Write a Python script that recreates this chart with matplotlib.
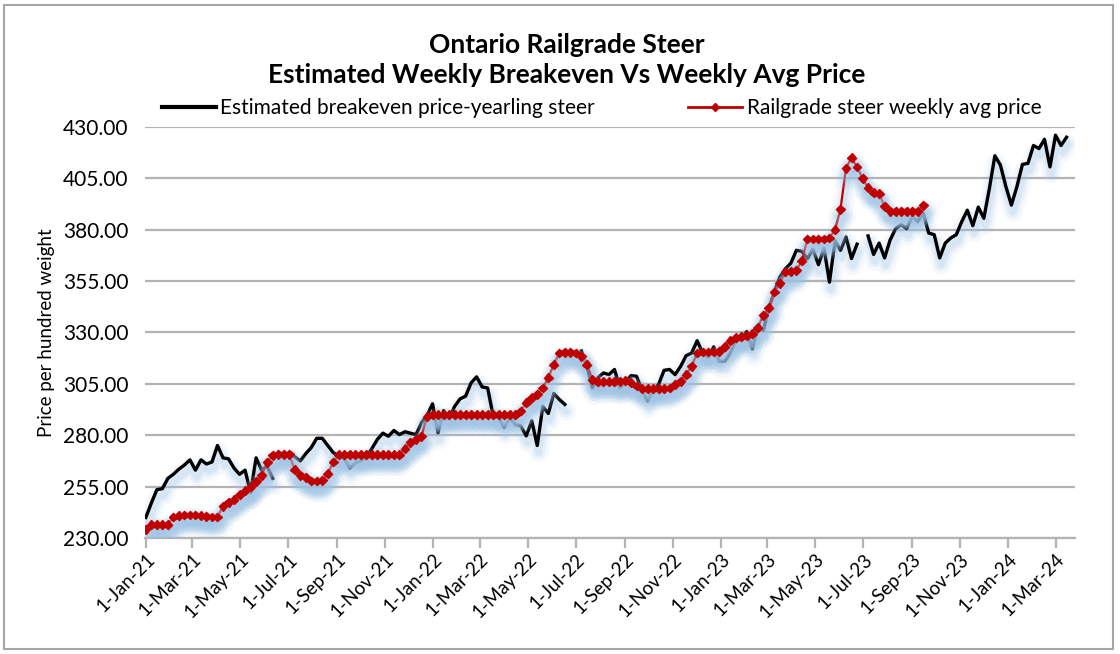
import numpy as np
import pandas as pd
import matplotlib
matplotlib.use("Agg")
import matplotlib.pyplot as plt
import matplotlib.dates as mdates
import matplotlib.ticker as ticker
import matplotlib.patheffects as pe
from matplotlib.lines import Line2D
from matplotlib.patches import Rectangle

plt.rcParams['font.family'] = ['Lato', 'DejaVu Sans']

nan = np.nan

# weekly dates, Jan 2021 - Mar 2024
dates = pd.date_range("2021-01-01", periods=168, freq="7D")

# Estimated breakeven price - yearling steer (gaps where no estimate)
breakeven = [
    240, 247, 253.5, 254, 259, 261, 263.5, 265.5, 268, 263, 268, 266, 267, 275, 269, 268.5,
    264, 261, 263, 252, 269, 263, 265, 259,
    nan, nan,
    271, 269.5, 267.5, 271, 274, 278.5, 278.5, 275, 271.5, 270, 268.5, 264, 266.5, 267.5,
    269.5, 273.5, 278, 281, 279.5, 282.3, 280.3, 281.7, 281, 280.3, 286, 289.5, 295.3,
    281.2, 292, 288, 294, 297.7, 299, 305.5, 308.4, 303.5, 303, 289.4, 288.5, 283.7, 288.5,
    285.3, 284.5, 279.7, 287, 275, 294, 290.6, 300.3, 297.4, 295,
    nan, nan,
    321, 313.5, 303, 308, 310.3, 309.5, 312, 303, 306, 309, 308.7, 302, 296.6, 301.5, 304.7,
    311.6, 312, 309.5, 313.5, 318.7, 320, 326, 320, 318, 323, 316, 316, 320, 325.6, 326.8,
    330.5, 322, 332.7, 331, 341.6, 349.7, 357, 361, 363.7, 370,
    369.5, 366, 370.5, 363, 371, 354.5, 374.5, 370, 376.5, 366, 373,
    nan,
    377, 368, 373.5, 366.3, 375, 380.5, 382.5, 380.5, 386.5, 384, 388, 378.4, 377.6, 366.3,
    373.5, 376, 377.6, 384, 389.5, 382, 391, 385.6, 400, 416, 411.5, 401, 392, 401, 411.8,
    412.3, 421, 419.5, 424, 410.6, 426, 421, 425,
]

# Railgrade steer weekly average price
avg_price = [
    234.3, 236.5, 236.5, 236.5, 236.5, 240.2, 240.8, 241.2, 241.2, 241.2, 240.8, 240.5,
    240.2, 240.2, 245.5, 247.4, 248.7, 251, 253, 255, 257.5, 260.5, 266.8, 270.3, 270.8,
    270.8, 270.8, 263.2, 260.6, 259.5,
    257.7, 257.7, 258, 261.3, 267, 270.5, 270.5, 270.5, 270.5, 270.5, 270.5, 270.5, 270.5,
    270.5, 270.5, 270.5, 270.5,
    273.5, 276.5, 278, 279.5, 289, 290, 290, 290, 290, 290, 290, 290, 290, 290, 290, 290,
    290, 290, 290, 290, 290,
    291.8, 295.8, 298.2, 300, 303, 308, 314.4, 320, 320.3, 320.3, 320, 318.5, 314.4, 307,
    306, 306, 306, 306, 306.3, 306.5, 305.5, 304, 302.6, 302.6, 302.6, 302.6, 302.6, 303,
    304.7, 306.3, 309.5, 313.5,
    320, 320.5, 320.5, 320.5, 320.8, 323, 326, 327.5, 328, 328.5, 329.5, 332.4, 338.4, 342,
    349.7, 354, 359.4, 359.8, 360.2, 365,
    375.5, 375.5, 375.5, 375.5, 376, 380, 390, 410, 415, 410.5, 405, 400.5, 398, 397.5,
    391.5, 389, 389, 389, 389, 389, 389, 392,
]
avg_price = avg_price + [nan] * (len(dates) - len(avg_price))

y_ticks = [230, 255, 280, 305, 330, 355, 380, 405, 430]

fig = plt.figure(figsize=(11.2, 6.54), dpi=100)
ax = fig.add_axes([0.1295, 0.1774, 0.8305, 0.6284])

# soft blue glow under the lines
glow = [
    pe.SimpleLineShadow(offset=(1, -5), shadow_color="#9dc3e6", alpha=0.10, linewidth=14,
                        joinstyle="round", capstyle="round"),
    pe.SimpleLineShadow(offset=(1, -5), shadow_color="#9dc3e6", alpha=0.15, linewidth=9,
                        joinstyle="round", capstyle="round"),
    pe.SimpleLineShadow(offset=(1, -5), shadow_color="#9dc3e6", alpha=0.22, linewidth=5,
                        joinstyle="round", capstyle="round"),
    pe.Normal(),
]

ax.plot(dates, breakeven, color="black", linewidth=2.4, solid_joinstyle="round",
        path_effects=glow, zorder=3)
ax.plot(dates, avg_price, color="#c00000", linewidth=1.6, marker="D", markersize=4.5,
        path_effects=glow, zorder=4)

ax.set_ylim(230, 430)
ax.set_yticks(y_ticks)
ax.yaxis.set_major_formatter(ticker.FormatStrFormatter("%.2f"))
ax.set_xlim(pd.Timestamp("2020-12-31"), pd.Timestamp("2024-03-26"))
ax.xaxis.set_major_locator(mdates.MonthLocator(bymonth=[1, 3, 5, 7, 9, 11], bymonthday=1))
ax.xaxis.set_major_formatter(ticker.FuncFormatter(
    lambda v, pos: f"{mdates.num2date(v).day}-{mdates.num2date(v).strftime('%b-%y')}"))

ax.grid(True, axis="y", color="#b3b3b3", linewidth=1.6)
ax.set_axisbelow(True)
for side in ["top", "right", "left"]:
    ax.spines[side].set_visible(False)
ax.spines["bottom"].set_color("#b3b3b3")
ax.spines["bottom"].set_linewidth(1.6)
ax.tick_params(axis="y", length=0, labelsize=15, pad=12)
ax.tick_params(axis="x", length=7, width=1.6, color="#b3b3b3", labelsize=13.5, pad=2)
for lbl in ax.get_xticklabels():
    lbl.set_rotation(45)
    lbl.set_ha("right")
    lbl.set_rotation_mode("anchor")

ax.set_ylabel("Price per hundred weight", fontsize=13.5, labelpad=6)

fig.text(0.506, 0.908, "Ontario Railgrade Steer\nEstimated Weekly Breakeven Vs Weekly Avg Price",
         ha="center", va="center", fontsize=19, fontweight="bold", linespacing=1.3)

handles = [
    Line2D([], [], color="black", linewidth=3),
    Line2D([], [], color="#c00000", linewidth=2, marker="D", markersize=4.5),
]
labels = ["Estimated breakeven price-yearling steer", "Railgrade steer weekly avg price"]
fig.legend(handles, labels, loc="center", bbox_to_anchor=(0.537, 0.835), ncol=2, frameon=False,
           fontsize=15, handlelength=2.6, handletextpad=0.2, columnspacing=4.5)

fig.patches.append(Rectangle((0.004, 0.008), 0.99, 0.985, transform=fig.transFigure,
                             fill=False, edgecolor="#a6a6a6", linewidth=1.5))

fig.savefig("out.png", dpi=100)
